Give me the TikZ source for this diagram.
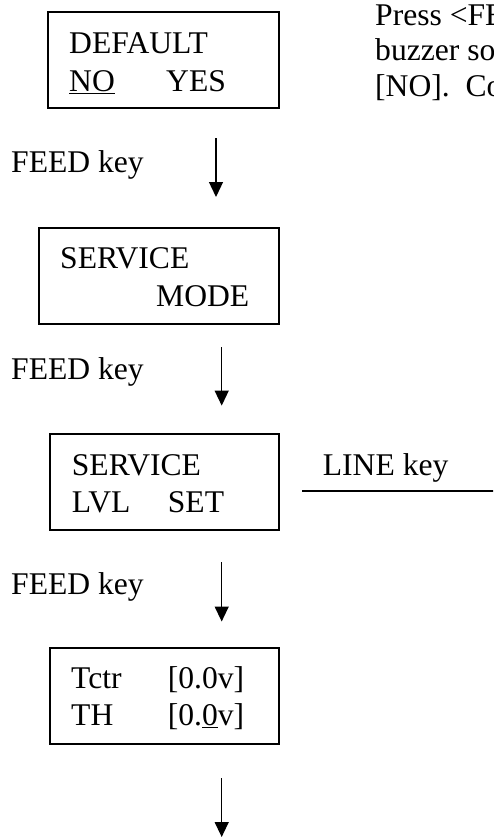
\documentclass[tikz,border=0pt]{standalone}
\usepackage{fontspec}
\setmainfont{Liberation Serif}
\usetikzlibrary{arrows.meta}
\begin{document}
\begin{tikzpicture}[x=1pt,y=-1pt,
  txt/.style={inner sep=0pt,anchor=base west,font=\fontsize{31.6}{37.5}\selectfont},
  boxA/.style={draw,line width=2.4pt,inner sep=0pt,minimum width=#1,minimum height=96pt},
  boxB/.style={draw,line width=1.7pt,inner sep=0pt,minimum width=#1,minimum height=96pt},
  arr/.style={line width=1.3pt,-{Triangle[width=14pt,length=15pt]}},
  plain/.style={line width=1.5pt}]
\useasboundingbox (0,0) rectangle (493,838);
\clip (0,0) rectangle (493,838);
% box 1
\node[boxA=231pt] (b1) at (163.5,60) {};
\node[txt] (t1a) at (69,53.5) {DEFAULT};
\node[txt] (t1b) at (69,91) {\underline{NO}};
\node[txt] (t1c) at (166,91) {YES};
% side text
\node[txt] (s1) at (375,25) {Press <FE};
\node[txt] (s2) at (375,60.5) {buzzer so};
\node[txt] (s3) at (375,96) {[NO].\ \ Co};
% feed 1
\node[txt] (f1) at (11,172) {FEED key};
\coordinate (a1s) at (216,138);
\coordinate (a1e) at (216,197);
\draw[arr] (a1s) -- (a1e);
% box 2
\node[boxA=240.3pt] (b2) at (158.85,276) {};
\node[txt] (t2a) at (60,268.5) {SERVICE};
\node[txt] (t2b) at (156,306) {MODE};
% feed 2
\node[txt] (f2) at (11,379) {FEED key};
\coordinate (a2s) at (221.7,347);
\coordinate (a2e) at (221.7,405.6);
\draw[arr] (a2s) -- (a2e);
% box 3
\node[boxB=229.3pt] (b3) at (164.35,482) {};
\node[txt] (t3a) at (71.7,475) {SERVICE};
\node[txt] (t3b) at (71.7,512) {LVL};
\node[txt] (t3c) at (167.7,512) {SET};
\node[txt] (lk) at (322.7,475) {LINE key};
\coordinate (l1s) at (302,491);
\coordinate (l1e) at (500,491);
\draw[plain] (l1s) -- (l1e);
% feed 3
\node[txt] (f3) at (11,594.5) {FEED key};
\coordinate (a3s) at (221.7,562);
\coordinate (a3e) at (221.7,621.5);
\draw[arr] (a3s) -- (a3e);
% box 4
\node[boxB=229.6pt] (b4) at (164.5,696.2) {};
\node[txt] (t4a) at (71,688) {Tctr};
\node[txt] (t4b) at (167.7,688) {[0.0v]};
\node[txt] (t4c) at (71,725.5) {TH};
\node[txt] (t4d) at (167.7,725.5) {[0.\underline{0}v]};
% final arrow
\coordinate (a4s) at (221.7,778);
\coordinate (a4e) at (221.7,837);
\draw[arr] (a4s) -- (a4e);
\end{tikzpicture}
\end{document}
